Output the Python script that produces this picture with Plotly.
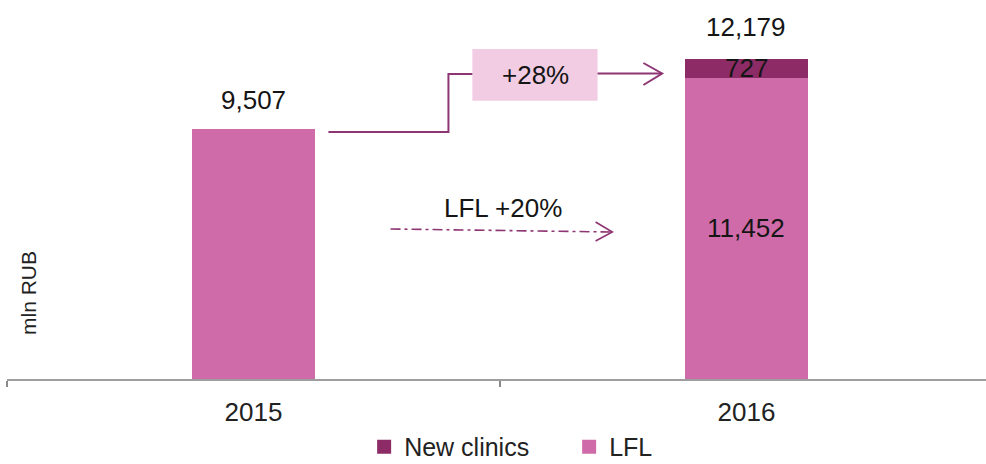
import plotly.graph_objects as go

# Revenue, mln RUB
years = ["2015", "2016"]
lfl = [9507, 11452]
new_clinics = [0, 727]
totals = [lfl[i] + new_clinics[i] for i in range(len(years))]
growth_total_label = "+28%"
growth_lfl_label = "LFL +20%"

LFL_COLOR = "#d06ba9"
NEW_COLOR = "#8c2b66"
LINE_COLOR = "#8e3573"
BOX_COLOR = "#f1cce2"
TEXT_COLOR = "#151515"
FONT = "Liberation Sans, Arial, sans-serif"

fig = go.Figure()
fig.add_bar(x=years, y=lfl, name="LFL", marker_color=LFL_COLOR,
            marker_line_width=0, width=0.25, showlegend=False,
            legendgroup="lfl")
fig.add_bar(x=years[1:], y=new_clinics[1:], name="New clinics",
            marker_color=NEW_COLOR, marker_line_width=0, width=0.25,
            showlegend=False, legendgroup="new")
# legend entries with larger square swatches
fig.add_scatter(x=[None], y=[None], mode="markers", name="New clinics",
                legendgroup="new",
                marker=dict(symbol="square", size=14, color=NEW_COLOR))
fig.add_scatter(x=[None], y=[None], mode="markers", name="LFL",
                legendgroup="lfl",
                marker=dict(symbol="square", size=14, color=LFL_COLOR))

annotations = []
# value above the 2015 bar and total above the 2016 stack
annotations.append(dict(x=0, y=totals[0], text=f"{totals[0]:,}",
                        yshift=29, showarrow=False))
annotations.append(dict(x=1, y=totals[1], text=f"{totals[1]:,}",
                        yshift=32, showarrow=False))
# segment labels inside the 2016 stack
annotations.append(dict(x=1, y=lfl[1] / 2, text=f"{lfl[1]:,}",
                        showarrow=False))
annotations.append(dict(x=1, y=lfl[1] + new_clinics[1] / 2,
                        text=f"{new_clinics[1]:,}", showarrow=False))
# growth call-outs
annotations.append(dict(x=0.572, y=11561, text=growth_total_label,
                        showarrow=False))
annotations.append(dict(x=0.507, y=6503, text=growth_lfl_label,
                        showarrow=False))
for a in annotations:
    a.update(xref="x", yref="y", yanchor="middle",
             font=dict(family=FONT, size=26, color=TEXT_COLOR))

line = dict(color=LINE_COLOR, width=2)
shapes = [
    # highlight box behind the total growth label
    dict(type="rect", xref="x", yref="y", x0=0.444, x1=0.698,
         y0=10584, y1=12550, fillcolor=BOX_COLOR, line_width=0, layer="below"),
    # stepped connector from 2015 to the box
    dict(type="path", xref="x", yref="y",
         path="M 0.152 9393 L 0.3955 9393 L 0.3955 11599 L 0.444 11599",
         line=line),
    # connector from the box to the 2016 stack, with open arrowhead
    dict(type="line", xref="x", yref="y", x0=0.698, x1=0.829,
         y0=11618, y1=11618, line=line),
    dict(type="path", xref="x", yref="y",
         path="M 0.791 12017 L 0.829 11618 L 0.791 11180", line=line),
    # like-for-like growth arrow
    dict(type="line", xref="x", yref="y", x0=0.278, x1=0.728,
         y0=5705, y1=5590,
         line=dict(color=LINE_COLOR, width=1.6, dash="10px,4px,3px,4px")),
    dict(type="path", xref="x", yref="y",
         path="M 0.694 5971 L 0.728 5590 L 0.694 5248",
         line=dict(color=LINE_COLOR, width=1.6)),
]

fig.update_layout(
    width=986, height=464,
    margin=dict(l=7, r=0, t=0, b=85, autoexpand=False),
    barmode="stack",
    plot_bgcolor="white", paper_bgcolor="white",
    font=dict(family=FONT, size=26, color=TEXT_COLOR),
    showlegend=True,
    legend=dict(orientation="h", traceorder="normal",
                x=0.3648, xanchor="left",
                y=-0.2401, yanchor="bottom",
                font=dict(family=FONT, size=25, color="#222222"),
                entrywidth=160, itemwidth=30, tracegroupgap=0,
                borderwidth=0, bgcolor="rgba(0,0,0,0)"),
    annotations=annotations,
    shapes=shapes,
    xaxis=dict(type="category", range=[-0.5, 1.486],
               showline=True, linecolor="#9e9e9e", linewidth=2,
               ticks="outside", tickson="boundaries", ticklen=6,
               tickcolor="#8a8a8a", tickwidth=2, ticklabelstandoff=9,
               tickfont=dict(family=FONT, size=26, color="#222222"),
               showgrid=False, zeroline=False),
    yaxis=dict(range=[0, 14413], visible=False, showgrid=False),
)

fig.add_annotation(text="mln RUB", xref="paper", yref="paper",
                   x=(28 - 7) / 979, y=(379 - 293) / 379, textangle=-90,
                   showarrow=False, xanchor="center", yanchor="middle",
                   font=dict(family=FONT, size=21, color="#222222"))

fig.write_html("out.html")
